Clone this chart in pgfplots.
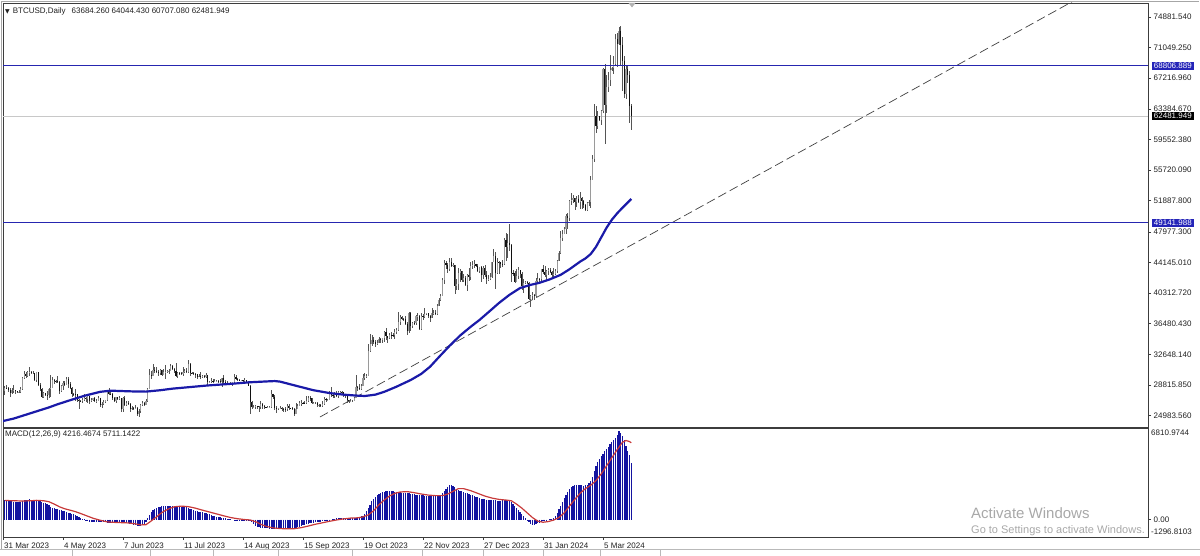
\documentclass[border=0pt]{standalone}
\usepackage{pgfplots}
\pgfplotsset{compat=1.18}
\usepackage{pgfplotstable}
\usepackage{fontspec}
\setmainfont{Liberation Sans}
\newfontfamily\dejavu{DejaVu Sans}
\definecolor{axisc}{HTML}{3C3C3C}
\definecolor{lblc}{HTML}{202020}
\definecolor{upc}{HTML}{9A9A9A}
\definecolor{dnc}{HTML}{101010}
\definecolor{wickc}{HTML}{555555}
\definecolor{mac}{HTML}{1A1AA8}
\definecolor{hlc}{HTML}{2626B0}
\definecolor{tagc}{HTML}{2424B8}
\definecolor{pricec}{HTML}{C8C8C8}
\definecolor{histc}{HTML}{1414A0}
\definecolor{sigc}{HTML}{C83A3A}
\definecolor{wmc}{HTML}{A8A8A8}
\newcommand{\lf}{\fontsize{8}{9}\selectfont}

\pgfplotstableread[row sep=\\]{
o h l c\\
28030 28660 27540 28470\\
28470 28800 28260 28450\\ 28450 28530 27880 28200\\ 28200 28490 27270 27800\\ 27800 28440 27680 28170\\ 28170 28760 27830 28180\\
28180 28190 27730 28040\\ 28040 28110 27790 27920\\ 27920 28180 27880 27950\\ 27950 28510 27810 28330\\ 28330 29770 28180 29650\\
29650 30500 29620 30230\\ 30230 30430 29700 29890\\ 29890 30560 29850 30400\\ 30400 31000 29990 30490\\ 30490 30610 30260 30320\\
30320 30550 30170 30320\\ 30320 30320 29300 29450\\ 29450 30470 29160 30400\\ 30400 30410 28670 28820\\ 28820 29090 28030 28250\\
28250 28370 27170 27280\\ 27280 27880 27150 27820\\ 27820 27820 27370 27600\\ 27600 28000 26970 27520\\ 27520 28390 27220 28310\\
28310 30020 27250 28420\\ 28420 29860 28420 29480\\ 29480 29580 28930 29340\\ 29340 29440 29110 29250\\ 29250 29950 29100 29230\\
29230 29310 27700 28090\\ 28090 28870 27900 28680\\ 28680 29260 28130 29030\\ 29030 29360 28730 28850\\ 28850 29800 28850 29540\\
29540 29800 28450 28900\\ 28900 29200 28400 28450\\ 28450 28530 27310 27690\\ 27690 27830 27400 27650\\ 27650 28300 26800 27620\\
27620 27630 26740 26990\\ 26990 27080 25860 26800\\ 26800 26990 26700 26780\\ 26780 27160 26600 26930\\ 26930 27650 26860 27180\\
27180 27270 26620 27030\\ 27030 27470 26600 27400\\ 27400 27460 26430 26830\\ 26830 27140 26680 26890\\ 26890 27140 26820 27120\\
27120 27260 26690 26750\\ 26750 27040 26560 26850\\ 26850 27480 26820 27220\\ 27220 27220 26100 26330\\ 26330 26620 25880 26480\\
26480 26920 26360 26720\\ 26720 26910 26570 26870\\ 26870 28200 26790 28080\\ 28080 28430 27600 27740\\ 27740 28030 27560 27700\\
27700 27810 26880 27220\\
27220 27350 26620 26820\\ 26820 27290 26570 27250\\ 27250 27300 26950 27070\\ 27070 27450 26990 27120\\ 27120 27130 25440 25760\\
25760 27320 25400 27240\\ 27240 27370 26170 26350\\ 26350 26790 26130 26500\\ 26500 26760 26290 26480\\ 26480 26530 25460 25850\\
25850 26200 25640 25940\\ 25940 26040 25680 25900\\ 25900 26330 25780 25920\\ 25920 26080 24970 25130\\ 25130 25760 24800 25580\\
25580 26460 25310 26340\\ 26340 26760 26200 26510\\ 26510 26680 26270 26340\\ 26340 27000 26290 26840\\ 26840 28390 26660 28310\\
28310 30800 28270 30010\\ 30010 30500 29560 29990\\ 29990 31400 29880 30690\\ 30690 31050 30280 30550\\ 30550 31030 30340 30470\\
30470 30650 29950 30270\\ 30270 30800 30050 30690\\ 30690 30700 29960 30080\\ 30080 30830 30060 30450\\ 30450 31280 29520 30480\\
30480 30640 30340 30590\\ 30590 30790 30240 30620\\ 30620 31380 30570 31160\\ 31160 31320 30670 30770\\ 30770 30880 30260 30510\\
30510 31500 29850 29900\\ 29900 30440 29710 30350\\ 30350 30380 30050 30290\\ 30290 30430 30100 30170\\ 30170 31030 29980 30410\\
30410 30800 30310 30620\\ 30620 30980 30260 30390\\ 30390 32000 30280 31480\\ 31480 31620 29960 30320\\ 30320 30400 30250 30290\\
30290 30440 30100 30230\\ 30230 30340 29700 30140\\ 30140 30230 29560 29860\\ 29860 30200 29760 29910\\ 29910 30400 29590 29800\\
29800 30050 29740 29910\\ 29910 30000 29660 29790\\ 29790 30330 29720 30080\\ 30080 30090 28870 29180\\ 29180 29350 29080 29230\\
29230 29650 29120 29350\\ 29350 29560 29090 29210\\ 29210 29500 29150 29320\\ 29320 29420 29260 29360\\ 29360 29450 29040 29280\\
29280 29500 29000 29230\\
29230 29740 28610 29700\\ 29700 30040 28990 29180\\ 29180 29410 28970 29070\\ 29070 29310 28830 29050\\ 29050 29100 28980 29040\\
29040 29160 28980 29040\\ 29040 29240 28700 29180\\ 29180 30200 29120 29770\\ 29770 30100 29390 29580\\ 29580 29700 29330 29440\\
29440 29550 29310 29400\\ 29400 29450 29350 29420\\ 29420 29470 29250 29280\\ 29280 29670 29140 29400\\ 29400 29480 29060 29170\\
29170 29250 28700 28700\\ 28700 28780 25200 26660\\ 26660 26790 25800 26050\\ 26050 26250 25990 26100\\ 26100 26280 25850 26190\\
26190 26240 25820 26120\\ 26120 26160 25440 26050\\ 26050 26800 25820 26430\\ 26430 26560 25860 26160\\ 26160 26300 25770 26050\\
26050 26110 25970 26010\\ 26010 26180 25980 26090\\ 26090 26230 25880 26100\\ 26100 28130 25900 27720\\ 27720 27740 27060 27300\\
27300 27520 25710 25930\\
25930 26120 25330 25800\\ 25800 25980 25730 25870\\ 25870 26120 25780 25970\\ 25970 26080 25600 25820\\ 25820 25870 25380 25780\\
25780 26000 25390 25750\\ 25750 26400 25610 26240\\ 26240 26430 25650 25910\\ 25910 25960 25800 25900\\ 25900 26020 25620 25840\\
25840 25870 24920 25160\\ 25160 26540 25140 25830\\ 25830 26390 25780 26230\\ 26230 26800 26130 26530\\ 26530 26890 26240 26600\\
26600 26620 26480 26570\\ 26570 26790 26400 26530\\ 26530 27390 26390 26770\\ 26770 27490 26670 27210\\ 27210 27370 26820 27130\\
27130 27150 26400 26570\\ 26570 26720 26480 26580\\ 26580 26640 26510 26580\\ 26580 26720 26000 26250\\ 26250 26420 26080 26300\\
26300 26380 26050 26220\\ 26220 26830 26100 26370\\ 26370 27310 26350 27020\\ 27020 27230 26640 26910\\ 26910 27080 26880 26970\\
26970 28050 26950 27990\\ 27990 28580 27330 27530\\ 27530 27650 27180 27430\\ 27430 27900 27200 27790\\ 27790 28100 27360 27420\\
27420 28060 27190 27950\\ 27950 28000 27870 27970\\ 27970 28080 27720 27930\\ 27930 27990 27300 27590\\ 27590 27730 27150 27390\\
27390 27480 26600 26870\\ 26870 26950 26560 26760\\ 26760 27090 26700 26860\\ 26860 26970 26810 26860\\ 26860 27290 26820 27160\\
27160 30000 27130 28520\\ 28520 28620 28100 28420\\ 28420 28980 28180 28330\\ 28330 28900 28170 28720\\ 28720 30140 28680 29680\\
29680 30300 29470 29920\\ 29920 30210 29720 29990\\ 29990 33940 29900 33090\\ 33090 35200 32880 33900\\ 33900 35100 33720 34500\\
34500 34800 33900 34160\\ 34160 34490 33570 33910\\ 33910 34460 33850 34090\\ 34090 34780 34050 34540\\ 34540 34730 34120 34500\\
34500 34700 34090 34670\\
34670 35580 34160 35440\\ 35440 35970 34390 34940\\ 34940 34950 34120 34730\\ 34730 35270 34600 35080\\ 35080 35390 34600 35050\\
35050 35280 34780 35040\\ 35040 35880 34560 35420\\ 35420 35980 35140 35640\\ 35640 37930 35560 36700\\ 36700 37520 36350 37310\\
37310 37400 36900 37130\\ 37130 37220 36770 37070\\ 37070 37420 36360 36500\\ 36500 36720 35050 35540\\ 35540 37940 35360 37880\\
37880 37940 35620 36150\\ 36150 36690 35930 36600\\ 36600 36820 36320 36580\\ 36580 37520 36370 37390\\ 37390 37800 36850 37480\\
37480 37600 35780 35820\\ 35820 37800 35660 37440\\ 37440 37650 36900 37300\\ 37300 38420 37240 37720\\ 37720 37880 37620 37800\\
37800 37830 37180 37480\\ 37480 37610 36730 37250\\ 37250 38400 37140 37830\\ 37830 38180 37590 37860\\ 37860 38150 37530 37720\\
37720 38950 37630 38690\\ 38690 39700 38650 39480\\ 39480 40180 39320 39980\\ 39980 42200 39960 41980\\ 41980 44450 41430 44080\\
44080 44280 43350 43770\\ 43770 44040 42850 43290\\ 43290 44680 43080 44170\\ 44170 44700 43620 43730\\ 43730 44040 43610 43790\\
43790 43800 40220 41240\\ 41240 42040 40760 41450\\ 41450 43400 40640 42890\\ 42890 43380 41760 43020\\ 43020 43080 41690 41930\\
41930 42700 41670 42240\\ 42240 42410 41270 41360\\ 41360 42750 40540 42620\\ 42620 43460 41840 42270\\ 42270 44260 41900 43650\\
43650 44300 43360 43870\\ 43870 44400 43440 43990\\ 43990 44000 43600 43740\\ 43740 43940 42900 43020\\ 43020 43640 42780 43610\\
43610 43660 41680 42520\\ 42520 43680 42110 43440\\ 43440 43800 42330 42580\\ 42580 43120 41480 42070\\ 42070 42620 41870 42140\\
42140 42880 41970 42280\\
42280 44200 42180 44180\\ 44180 45880 44170 44950\\ 44950 45500 40800 42850\\ 42850 44740 42650 44180\\ 44180 44340 42670 44160\\
44160 44200 43400 43970\\ 43970 44480 43600 43930\\ 43930 47230 43880 46970\\ 46970 47890 44340 46120\\ 46120 47650 44750 46630\\
46630 48970 45600 46340\\ 46340 46500 41750 42890\\ 42890 43250 42450 42850\\ 42850 43080 41720 41730\\ 41730 43320 41720 42510\\
42510 43570 42080 43150\\ 43150 43200 42220 42740\\ 42740 42930 40680 41260\\ 41260 42140 40300 41620\\ 41620 41820 41470 41660\\
41660 41850 41450 41580\\ 41580 41670 39460 39570\\ 39570 40120 38520 39890\\ 39890 40500 39480 40080\\ 40080 40260 39500 39930\\
39930 42210 39820 41820\\ 41820 42840 41640 42120\\ 42120 42230 41680 42030\\ 42030 43320 41800 43300\\ 43300 43840 42690 42940\\
42940 43740 42310 42580\\
42580 43260 41880 43080\\ 43080 43420 42560 43200\\ 43200 43500 42890 43010\\ 43010 43120 42260 42580\\ 42580 43500 42270 42660\\
42660 43350 42580 43080\\ 43080 44490 42780 44340\\ 44340 45550 44300 45290\\ 45290 48130 45250 47150\\ 47150 48170 46820 47770\\
47770 48580 47670 48290\\ 48290 50260 47700 49960\\ 49960 50360 48350 49740\\ 49740 52000 49300 51830\\ 51830 52830 51310 51940\\
51940 52570 51590 52160\\ 52160 52180 50670 51660\\ 51660 52410 51030 52120\\ 52120 52550 51560 51780\\ 51780 52960 50790 52280\\
52280 52340 50820 51840\\ 51840 52000 50980 51300\\ 51300 51520 50560 50730\\ 50730 51660 50600 51570\\ 51570 51990 51270 51730\\
51730 54930 50930 54520\\ 54520 57550 54450 57090\\ 57090 64000 56700 62500\\ 62500 63680 60370 61200\\
61200 63160 60800 62440\\ 62440 62450 61800 62030\\ 62030 63270 61360 63170\\ 63170 68530 62800 68330\\ 68330 69000 59000 63800\\
63800 67600 62900 66110\\ 66110 67980 65550 66930\\ 66930 70100 66200 68300\\ 68300 68600 68150 68500\\ 68500 70000 67800 69020\\
69020 72800 68700 72120\\ 72120 72850 68600 71480\\ 71480 73650 71330 73100\\ 73100 73800 68700 71400\\ 71400 72400 65600 69400\\
69400 70000 64800 65300\\ 65300 68800 64600 68400\\ 68400 68900 66600 67600\\ 67600 68100 61600 63684.26\\
63684.26 64044.43 60707.08 62481.949\\
}\ohlc

\pgfplotstableread[row sep=\\]{
m\\
1450\\ 1420\\ 1400\\ 1380\\ 1350\\ 1330\\ 1310\\ 1300\\ 1290\\ 1300\\ 1350\\ 1420\\ 1470\\ 1480\\ 1500\\ 1490\\ 1460\\ 1420\\ 1400\\
1380\\ 1350\\ 1300\\ 1250\\ 1200\\ 1150\\ 1050\\ 950\\
880\\ 850\\ 820\\ 780\\ 740\\ 700\\ 660\\ 620\\ 580\\
520\\ 470\\ 420\\ 380\\ 340\\ 280\\ 200\\
120\\ 60\\ 20\\ -30\\ -80\\
-150\\ -170\\ -180\\ -190\\ -200\\ -210\\ -200\\ -190\\ -200\\ -210\\ -220\\ -230\\ -240\\ -250\\ -250\\ -240\\ -230\\ -220\\ -230\\ -250\\ -260\\ -270\\
-280\\ -300\\ -330\\ -380\\ -430\\ -470\\ -480\\ -450\\ -400\\ -330\\ -150\\ 100\\ 350\\ 550\\ 700\\
800\\ 880\\ 930\\ 970\\ 1000\\ 1010\\ 1020\\ 1010\\ 1000\\ 1000\\ 1010\\ 1020\\ 1000\\ 990\\ 980\\ 960\\ 950\\ 930\\ 900\\
850\\ 800\\ 750\\ 700\\ 660\\ 620\\ 590\\ 570\\ 540\\ 500\\ 460\\ 420\\ 380\\ 340\\ 300\\ 260\\ 220\\ 190\\ 160\\ 130\\ 100\\ 80\\ 60\\ 40\\ 20\\
0\\ -10\\ -20\\ -20\\ -20\\ -30\\ -30\\ -30\\ -40\\ -40\\ -30\\
-200\\ -350\\ -450\\ -520\\ -570\\ -600\\ -620\\ -640\\ -650\\ -660\\ -670\\ -670\\ -680\\ -680\\ -690\\ -690\\ -700\\ -700\\ -700\\ -690\\ -690\\ -680\\ -660\\ -640\\ -620\\ -600\\ -560\\ -520\\
-480\\ -440\\ -400\\ -360\\ -320\\ -280\\ -250\\ -220\\ -200\\ -180\\ -160\\ -150\\ -130\\ -110\\ -90\\ -60\\ -30\\
0\\ 30\\ 60\\ 90\\ 110\\ 120\\ 130\\ 140\\ 150\\ 150\\ 140\\ 130\\ 120\\ 110\\ 120\\ 150\\ 200\\ 250\\ 300\\ 400\\
600\\ 850\\ 1100\\ 1350\\ 1550\\ 1700\\ 1820\\ 1900\\ 1960\\ 2020\\ 2060\\ 2090\\ 2100\\
2100\\ 2100\\ 2090\\ 2080\\ 2070\\ 2050\\ 2030\\ 2010\\ 2000\\ 1980\\ 1960\\ 1940\\ 1920\\ 1900\\ 1880\\ 1860\\ 1840\\ 1820\\ 1800\\ 1790\\ 1780\\ 1770\\ 1760\\ 1750\\ 1750\\ 1750\\ 1760\\ 1780\\ 1800\\
1850\\ 1950\\ 2100\\ 2300\\ 2450\\ 2550\\ 2560\\ 2500\\ 2400\\ 2300\\
2200\\ 2150\\ 2100\\ 2050\\ 2000\\ 1950\\ 1900\\ 1850\\ 1800\\ 1750\\ 1700\\ 1650\\ 1600\\ 1560\\ 1520\\ 1500\\ 1480\\ 1460\\ 1450\\ 1440\\ 1430\\ 1420\\ 1400\\ 1390\\ 1400\\ 1420\\ 1450\\ 1480\\ 1450\\ 1400\\
1300\\ 1150\\ 1000\\ 850\\ 700\\ 550\\ 400\\ 250\\ 100\\ -50\\ -200\\ -320\\ -400\\ -380\\ -330\\ -280\\ -230\\ -180\\ -130\\ -80\\ -40\\ 0\\ 30\\ 60\\
150\\ 300\\ 500\\ 750\\ 1000\\ 1300\\ 1600\\ 1850\\ 2050\\ 2250\\ 2400\\ 2500\\ 2550\\ 2560\\ 2570\\ 2560\\ 2540\\ 2530\\ 2550\\ 2600\\ 2700\\
2900\\ 3200\\ 3600\\ 4000\\ 4300\\ 4500\\ 4700\\ 4900\\ 5100\\ 5250\\ 5400\\ 5600\\ 5800\\ 5950\\ 6100\\ 6300\\ 6550\\ 6450\\ 6250\\ 5900\\ 5500\\ 5100\\ 4800\\ 4216.4674\\
}\macd

\begin{document}
\begin{tikzpicture}
\path[use as bounding box] (0,0) rectangle (1200pt,556pt);
% window frame
\draw[gray!70, line width=0.8pt] (1.5pt,7pt) -- (1.5pt,555pt) -- (1199pt,555pt);

% ---------------- main price panel ----------------
\begin{axis}[
  at={(3pt,129pt)}, anchor=south west, scale only axis,
  width=1145pt, height=424pt,
  xmin=-1, xmax=647.8, ymin=23550, ymax=76634,
  axis line style={draw=axisc, line width=0.9pt},
  xtick=\empty,
  ytick={74881.54,71049.25,67216.96,63384.67,59552.38,55720.09,51887.80,47977.30,44145.01,40312.72,36480.43,32648.14,28815.85,24983.56},
  yticklabels={74881.540,71049.250,67216.960,63384.670,59552.380,55720.090,51887.800,47977.300,44145.010,40312.720,36480.430,32648.140,28815.850,24983.560},
  ytick pos=right, yticklabel pos=right,
  tick align=outside, major tick length=3pt,
  tick style={draw=axisc, line width=0.6pt},
  yticklabel style={font=\lf, text=lblc, inner sep=0pt, xshift=2.5pt},
  clip mode=individual,
]
% current price line
\addplot[pricec, line width=0.8pt, forget plot] coordinates {(-1,62481.949) (647.8,62481.949)};
% trend line
\addplot[black!75, line width=0.7pt, dash pattern=on 9pt off 4pt, forget plot] coordinates {(178.6,24801) (640,81090)};
% wicks
\addplot[draw=none, mark=none, color=wickc, forget plot,
  error bars/.cd, y dir=both, y explicit, error mark=none, error mark options={draw=none,fill=none},
  error bar style={line width=0.6pt, color=wickc}]
  table[x expr=\coordindex, y=c, y error plus expr=\thisrow{h}-\thisrow{c}, y error minus expr=\thisrow{c}-\thisrow{l}] {\ohlc};
% up bodies
\addplot[draw=none, mark=none, color=upc, forget plot,
  x filter/.expression={\thisrow{c}>=\thisrow{o} ? x : nan},
  error bars/.cd, y dir=both, y explicit, error mark=none, error mark options={draw=none,fill=none},
  error bar style={line width=1.1pt, color=upc}]
  table[x expr=\coordindex, y=o, y error plus expr=\thisrow{c}-\thisrow{o}, y error minus expr=0] {\ohlc};
% down bodies
\addplot[draw=none, mark=none, color=dnc, forget plot,
  x filter/.expression={\thisrow{c}<\thisrow{o} ? x : nan},
  error bars/.cd, y dir=both, y explicit, error mark=none, error mark options={draw=none,fill=none},
  error bar style={line width=1.1pt, color=dnc}]
  table[x expr=\coordindex, y=o, y error plus expr=0, y error minus expr=\thisrow{o}-\thisrow{c}] {\ohlc};
% moving average
\addplot[mac, line width=2.2pt, line join=round, forget plot] coordinates {
(-1,24300) (5,24600) (10,24950) (15,25300) (20,25650) (25,26000) (30,26400) (37,26900) (45,27450) (54,27950)
(60,28100) (66,28050) (73,28000) (80,27980) (88,28150) (95,28350) (105,28550) (115,28750) (128,28950) (139,29150)
(148,29250) (153,29300) (156,29230) (160,29000) (167,28600) (175,28150) (184,27800) (192,27600) (198,27500) (204,27430)
(210,27600) (215,27950) (222,28600) (230,29430) (236,30200) (241,31100) (246,32300) (252,33700) (258,35000) (264,36100)
(269,36950) (275,38100) (280,39070) (286,40100) (292,40950) (298,41350) (303,41600) (309,42050) (315,42600) (320,43300)
(326,44250) (329,44650) (332,45200) (335,46100) (338,47300) (341,48500) (344,49500) (347,50300) (350,51000) (353,51650) (355,52100)};
% horizontal levels
\addplot[hlc, line width=1.4pt, forget plot] coordinates {(-1,68806.889) (647.8,68806.889)};
\addplot[hlc, line width=1.4pt, forget plot] coordinates {(-1,49141.988) (647.8,49141.988)};
% price tags
\node[fill=tagc, text=white, anchor=west, inner xsep=2.2pt, inner ysep=0pt, minimum height=8pt, font=\lf, xshift=3.5pt] at (axis cs:647.8,68806.889) {68806.889};
\node[fill=tagc, text=white, anchor=west, inner xsep=2.2pt, inner ysep=0pt, minimum height=8pt, font=\lf, xshift=3.5pt] at (axis cs:647.8,49141.988) {49141.988};
\node[fill=black, text=white, anchor=west, inner xsep=2.2pt, inner ysep=0pt, minimum height=8pt, font=\lf, xshift=3.5pt] at (axis cs:647.8,62481.949) {62481.949};
\end{axis}

% ---------------- MACD panel ----------------
\begin{axis}[
  at={(3pt,19pt)}, anchor=south west, scale only axis,
  width=1145pt, height=109pt,
  xmin=-1, xmax=647.8, ymin=-1296.8103, ymax=6810.9744,
  axis line style={draw=axisc, line width=0.9pt},
  xtick={-1,33,67,101,135,169,203,237,271,305,339},
  xticklabels={31 Mar 2023,4 May 2023,7 Jun 2023,11 Jul 2023,14 Aug 2023,15 Sep 2023,19 Oct 2023,22 Nov 2023,27 Dec 2023,31 Jan 2024,5 Mar 2024},
  xtick pos=bottom,
  ytick={0}, yticklabels={0.00},
  ytick pos=right, yticklabel pos=right,
  tick align=outside, major tick length=3pt,
  tick style={draw=axisc, line width=0.6pt},
  yticklabel style={font=\lf, text=lblc, inner sep=0pt, xshift=2.5pt},
  xticklabel style={font=\lf, text=lblc, inner sep=0pt, anchor=north west, xshift=1pt, yshift=-2.5pt},
  clip mode=individual,
]
\addplot[ycomb, histc, line width=1.25pt, mark=none, forget plot] table[x expr=\coordindex, y=m] {\macd};
\addplot[sigc, line width=1.2pt, line join=round, forget plot] coordinates {
(0,1420) (5,1400) (10,1380) (15,1400) (18,1430) (22,1400) (25,1330) (28,1150) (31,950) (34,800) (37,700) (40,590)
(43,450) (46,300) (50,100) (54,-50) (58,-170) (62,-210) (66,-230) (70,-250) (74,-320) (77,-400) (80,-380) (82,-200)
(84,0) (86,200) (88,420) (90,600) (93,800) (96,950) (100,1000) (104,960) (108,850) (112,700) (116,560) (120,420)
(124,280) (128,150) (132,60) (136,0) (139,-30) (142,-150) (145,-350) (148,-500) (152,-620) (156,-670) (160,-690)
(164,-680) (168,-600) (172,-480) (176,-350) (180,-240) (184,-130) (188,-30) (192,50) (196,110) (200,130) (203,200)
(206,350) (209,650) (212,1100) (215,1450) (218,1750) (221,1950) (224,2050) (228,2080) (232,2000) (236,1900) (240,1820)
(244,1780) (248,1780) (251,1900) (254,2100) (257,2300) (260,2300) (264,2150) (268,1950) (272,1750) (276,1600) (280,1500)
(284,1450) (287,1400) (290,1150) (293,850) (296,500) (299,150) (302,-120) (305,-200) (308,-150) (311,-40) (314,150)
(317,500) (320,1000) (323,1500) (326,1950) (329,2300) (332,2550) (335,2900) (338,3400) (341,4000) (344,4600) (347,5200)
(350,5750) (352,5880) (354,5800) (355,5711.1422)};
\node[anchor=north west, font=\lf, text=lblc, inner sep=0pt, xshift=3pt, yshift=-2pt] at (axis cs:647.8,6810.9744) {6810.9744};
\node[anchor=west, font=\lf, text=lblc, inner sep=0pt, xshift=3pt, yshift=5pt] at (axis cs:647.8,-1296.8103) {-1296.8103};
\end{axis}

% header texts
\node[anchor=west, inner sep=0pt, font=\lf, text=lblc] at (5pt,545pt) {{\dejavu\fontsize{6}{7}\selectfont ▼}\hspace{3pt}BTCUSD,Daily\hspace{6pt}63684.260 64044.430 60707.080 62481.949};
\node[anchor=west, inner sep=0pt, font=\lf, text=lblc] at (5pt,122pt) {MACD(12,26,9) 4216.4674 5711.1422};
% chart shift marker
\fill[gray!60] (628.5pt,553pt) -- (635.5pt,553pt) -- (632pt,548.5pt) -- cycle;
% bottom tab bar
\draw[gray!55, line width=0.6pt] (0,7pt) -- (1200pt,7pt);
\foreach \xx in {72,150,213,278,352,422,483,543,600,660} {\draw[gray!55, line width=0.6pt] (\xx pt,0) -- (\xx pt,7pt);}
% watermark
\node[anchor=west, inner sep=0pt, text=wmc, font=\fontsize{15}{17}\selectfont] at (971pt,43pt) {Activate Windows};
\node[anchor=west, inner sep=0pt, text=wmc, font=\fontsize{11}{13}\selectfont] at (971pt,25pt) {Go to Settings to activate Windows.};
\end{tikzpicture}
\end{document}
